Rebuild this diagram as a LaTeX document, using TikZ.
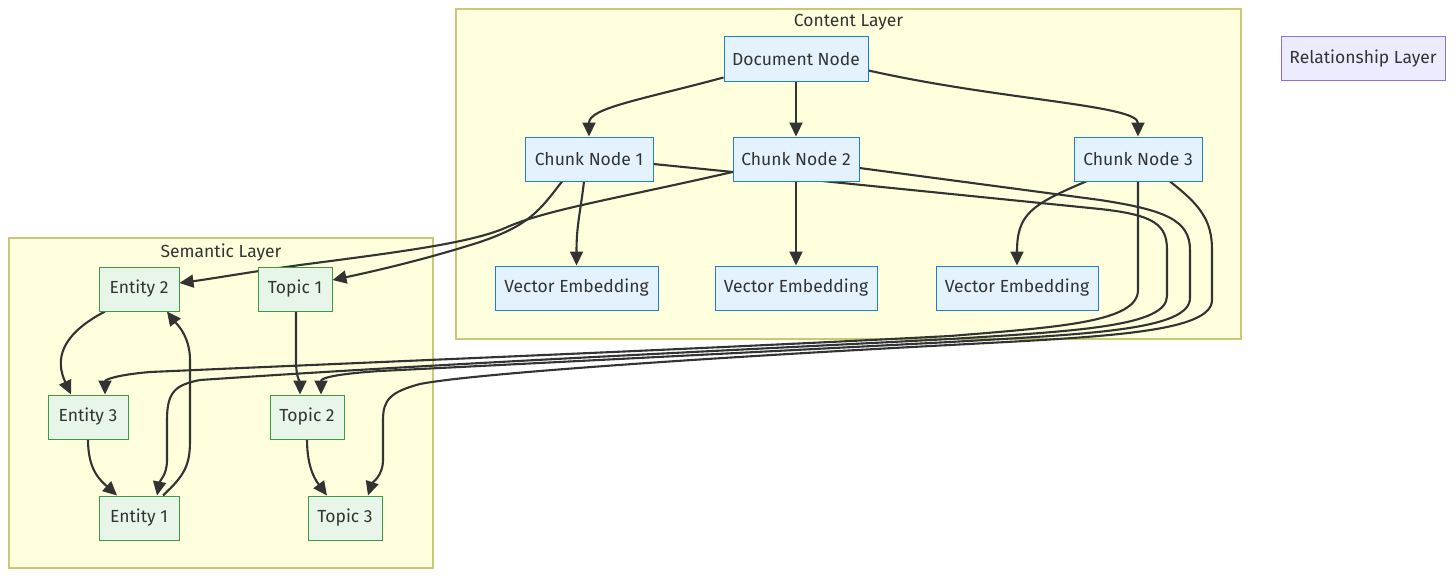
\documentclass[tikz,border=0pt]{standalone}
\usepackage{fontspec}
\setmainfont{Fira Sans}
\usetikzlibrary{arrows.meta}
\definecolor{clusterfill}{HTML}{FFFFDE}
\definecolor{clusterline}{HTML}{C8C878}
\definecolor{bluefill}{HTML}{E3F2FD}
\definecolor{blueline}{HTML}{1E7FD8}
\definecolor{greenfill}{HTML}{E8F5E9}
\definecolor{greenline}{HTML}{3C9A46}
\definecolor{relfill}{HTML}{ECECFF}
\definecolor{relline}{HTML}{9370DB}
\definecolor{edgecol}{HTML}{333333}
\definecolor{txt}{HTML}{333333}
\pgfdeclarelayer{bg}
\pgfdeclarelayer{edges}
\pgfsetlayers{bg,edges,main}
\tikzset{
  box/.style={draw, line width=1pt, minimum height=44pt, inner sep=0pt, text=txt, font=\fontsize{17.5}{20}\selectfont},
  bluebox/.style={box, fill=bluefill, draw=blueline},
  greenbox/.style={box, fill=greenfill, draw=greenline},
  relbox/.style={box, fill=relfill, draw=relline, minimum height=43pt},
  cluster/.style={draw=clusterline, fill=clusterfill, line width=1.2pt},
  clabel/.style={text=txt, font=\fontsize{17.5}{20}\selectfont},
  edge/.style={draw=edgecol, line width=2.1pt, -{Triangle[length=14pt,width=13pt]}}
}
\begin{document}
\begin{tikzpicture}[x=1pt,y=-1pt]
\useasboundingbox (0,0) rectangle (1456,578);
\begin{pgfonlayer}{bg}
  \fill[white] (0,0) rectangle (1456,578);
  \draw[cluster] (456,9) rectangle (1241,339);
  \draw[cluster] (9,238) rectangle (433,568);
\end{pgfonlayer}
\node[clabel] (lcontent) at (848.5,22.5) {Content Layer};
\node[clabel] (lsemantic) at (221,252.5) {Semantic Layer};

\node[bluebox, minimum width=144pt] (doc) at (796,59) {Document Node};
\node[bluebox, minimum width=128pt] (c1) at (589,159) {Chunk Node 1};
\node[bluebox, minimum width=126pt] (c2) at (796,159) {Chunk Node 2};
\node[bluebox, minimum width=128pt] (c3) at (1138,159) {Chunk Node 3};
\node[bluebox, minimum width=163pt] (v1) at (576.5,288) {Vector Embedding};
\node[bluebox, minimum width=162pt] (v2) at (796,288) {Vector Embedding};
\node[bluebox, minimum width=162pt] (v3) at (1017,288) {Vector Embedding};
\node[relbox, minimum width=164pt] (rel) at (1363,58.5) {Relationship Layer};

\node[greenbox, minimum width=80pt] (e2) at (139,289) {Entity 2};
\node[greenbox, minimum width=74pt] (t1) at (295,289) {Topic 1};
\node[greenbox, minimum width=80pt] (e3) at (88,417) {Entity 3};
\node[greenbox, minimum width=74pt] (t2) at (307,417) {Topic 2};
\node[greenbox, minimum width=80pt] (e1) at (139,518) {Entity 1};
\node[greenbox, minimum width=74pt] (t3) at (345,518) {Topic 3};

\begin{pgfonlayer}{edges}
  % document to chunks
  \draw[edge] ([yshift=4]doc.south west) .. controls (640,100) and (589,108) .. (c1.north);
  \draw[edge] (doc.south) -- (c2.north);
  \draw[edge] ([yshift=11]doc.south east) .. controls (1000,100) and (1138,105) .. (c3.north);
  % chunks to embeddings
  \draw[edge] ([xshift=-5]c1.south) .. controls (580,215) and (576.5,225) .. (v1.north);
  \draw[edge] (c2.south) -- (v2.north);
  \draw[edge] ([xshift=-52]c3.south) .. controls (1030,205) and (1017,215) .. (v3.north);
  % chunks to semantic layer
  \draw[edge] ([xshift=-27]c1.south) .. controls (540,210) and (530,225) .. (480,242)
     .. controls (430,258) and (380,270) .. ([yshift=9]t1.east);
  \draw[edge] ([yshift=-13]c2.west) .. controls (610,200) and (545,210) .. (505,228)
     .. controls (470,243) and (400,252) .. (300,265)
     .. controls (250,272) and (210,279) .. ([yshift=6]e2.east);
  \draw[edge] (c3.south) -- (1138,290) .. controls (1138,322) and (1060,327) .. (950,336)
     .. controls (700,349) and (400,361) .. (150,372)
     .. controls (115,375) and (105,380) .. ([xshift=17]e3.north);
  \draw[edge] ([yshift=-5]c1.east) -- (1100,209) .. controls (1155,215) and (1167,225) .. (1167,250)
     -- (1167,296) .. controls (1167,326) and (1080,331) .. (950,339)
     .. controls (700,352) and (450,363) .. (200,380)
     .. controls (175,385) and (167,392) .. (167,420)
     -- (167,460) .. controls (167,475) and (160,480) .. ([xshift=18]e1.north);
  \draw[edge] ([yshift=-9]c2.east) -- (1100,200) .. controls (1165,210) and (1190,220) .. (1190,250)
     -- (1190,298) .. controls (1190,330) and (1090,334) .. (950,342)
     .. controls (700,355) and (460,367) .. (380,371)
     .. controls (335,374) and (321,378) .. ([xshift=14]t2.north);
  \draw[edge] ([xshift=32]c3.south) .. controls (1200,205) and (1212,220) .. (1212,250)
     -- (1212,300) .. controls (1212,333) and (1100,337) .. (950,345)
     .. controls (700,358) and (470,374) .. (420,384)
     .. controls (390,392) and (383,400) .. (383,420)
     -- (383,460) .. controls (383,476) and (372,483) .. ([xshift=23]t3.north);
  % semantic relations
  \draw[edge] ([xshift=-34]e2.south) .. controls (60,335) and (55,360) .. ([xshift=-17]e3.north);
  \draw[edge] (e3.south) .. controls (88,470) and (100,480) .. ([xshift=-22]e1.north);
  \draw[edge] ([xshift=24]e1.north) .. controls (185,475) and (190,465) .. (190,440)
     -- (190,360) .. controls (190,335) and (175,322) .. ([xshift=28]e2.south);
  \draw[edge] ([xshift=1]t1.south) -- (296,360) .. controls (296,378) and (300,382) .. ([xshift=-7]t2.north);
  \draw[edge] (t2.south) .. controls (307,470) and (317,482) .. ([xshift=-18]t3.north);
\end{pgfonlayer}
\end{tikzpicture}
\end{document}
